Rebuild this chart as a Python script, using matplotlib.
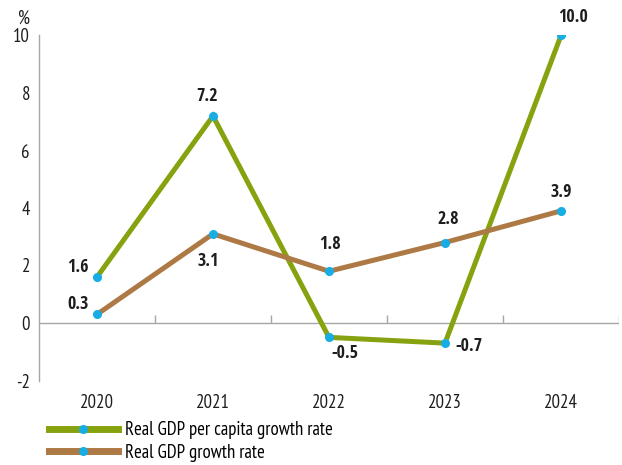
import matplotlib
matplotlib.use('Agg')
import matplotlib.pyplot as plt

# Data
years = ['2020', '2021', '2022', '2023', '2024']
gdp_per_capita = [1.6, 7.2, -0.5, -0.7, 10.0]
gdp_growth = [0.3, 3.1, 1.8, 2.8, 3.9]
y_ticks = [-2, 0, 2, 4, 6, 8, 10]

# label offsets in pixels (dx, dy), dy positive = down
pc_offsets = [(-19, -10), (-6, -20), (16, 16), (24, 3), (12, -18)]
gr_offsets = [(-19, -10), (-5, 27), (1, -27), (3, -24), (0, -19)]

green = '#86a20f'
brown = '#ad7944'
marker_blue = '#18ade4'
axis_gray = '#a6a6a6'
text_color = '#1e1e1e'

regular = ['PT Sans Narrow', 'DejaVu Sans']
bold = ['Open Sans Condensed', 'DejaVu Sans']
plt.rcParams['font.family'] = regular

fig = plt.figure(figsize=(6.22, 4.65), dpi=100)
ax = fig.add_axes([39 / 622, (465 - 380.5) / 465, 580 / 622, 345 / 465])

x = list(range(len(years)))
ax.plot(x, gdp_per_capita, color=green, lw=3.6, marker='o', ms=5.5,
        mfc=marker_blue, mec=marker_blue, solid_joinstyle='miter',
        label='Real GDP per capita growth rate', zorder=3)
ax.plot(x, gdp_growth, color=brown, lw=3.6, marker='o', ms=5.5,
        mfc=marker_blue, mec=marker_blue, solid_joinstyle='miter',
        label='Real GDP growth rate', zorder=3)

px = 72 / 100
for series, offs in ((gdp_per_capita, pc_offsets), (gdp_growth, gr_offsets)):
    for i, (v, (dx, dy)) in enumerate(zip(series, offs)):
        ax.annotate(f'{v:.1f}', (i, v), xytext=(dx * px, -dy * px),
                    textcoords='offset points', ha='center', va='center',
                    family=bold, fontsize=13, fontweight='bold',
                    color=text_color, zorder=4)

ax.set_xlim(-0.5, 4.5)
ax.set_ylim(-2, 10)
ax.set_yticks(y_ticks)
ax.set_yticklabels([str(t) for t in y_ticks])
ax.set_xticks(x)
ax.set_xticklabels(years)
ax.tick_params(axis='y', length=0, pad=6.5, labelsize=13.5, labelcolor=text_color)
ax.tick_params(axis='x', length=0, pad=10, labelsize=13.5, labelcolor=text_color)

for s in ('top', 'right', 'bottom'):
    ax.spines[s].set_visible(False)
ax.spines['left'].set_color(axis_gray)
ax.spines['left'].set_linewidth(1.0)

# zero baseline with short category separators
ax.axhline(0, color=axis_gray, lw=1.0, zorder=1)
ax.vlines([i + 0.5 for i in x], 0, 0.28, color=axis_gray, lw=1.0, zorder=1)

ax.text(-0.026, 1.05, '%', transform=ax.transAxes, ha='center', va='center',
        fontsize=13.5, color=text_color)

leg = fig.legend(loc='upper left', bbox_to_anchor=(0.066, 0.11), frameon=False,
                 prop={'family': regular, 'size': 13.5},
                 handlelength=3.7, handletextpad=0.4, labelspacing=0.25,
                 borderaxespad=0)
for line in leg.get_lines():
    line.set_linewidth(5)

fig.savefig('out.png', dpi=100)
